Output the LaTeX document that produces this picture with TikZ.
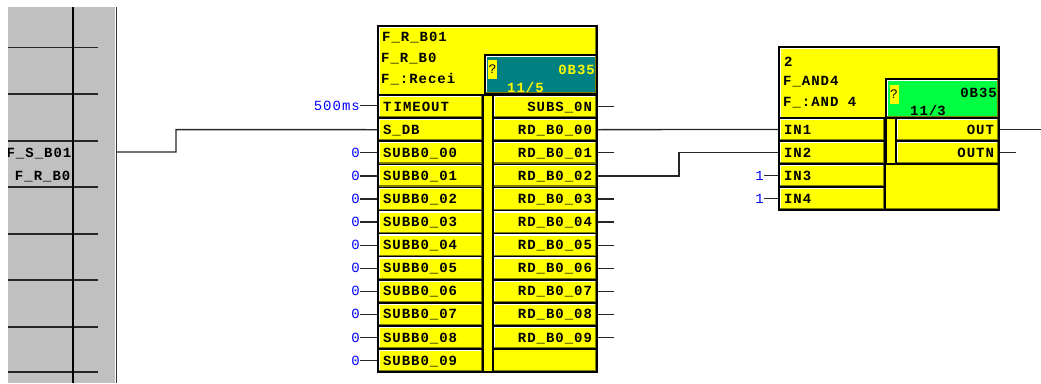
\documentclass[tikz,border=0pt]{standalone}
\usepackage{fontspec}
\usepackage{tikz}
\usepackage{xcolor}
\newfontfamily\fbdfont[LetterSpace=7]{Liberation Mono}
\definecolor{panelgray}{RGB}{192,192,192}
\definecolor{bevelolive}{RGB}{128,128,0}
\definecolor{runteal}{RGB}{0,128,128}
\definecolor{rungreen}{RGB}{0,255,64}
\definecolor{fbdyellow}{RGB}{255,255,0}
\definecolor{constblue}{RGB}{0,0,255}
\tikzset{
  fbdtext/.style={font=\fbdfont\bfseries\fontsize{14}{14}\selectfont,inner sep=0pt,text height=9.5pt,text depth=0.5pt},
  bevel/.style={path picture={
      \draw[white,line width=4pt] (path picture bounding box.south west) -- (path picture bounding box.north west) -- (path picture bounding box.north east);
      \draw[bevelolive,line width=4pt] (path picture bounding box.south west) -- (path picture bounding box.south east) -- (path picture bounding box.north east);}},
  pinbox/.style={fbdtext,draw=black,line width=1.5pt,fill=fbdyellow,minimum height=23.1pt,inner xsep=5pt,bevel},
  leftpin/.style={pinbox,text width=95pt,align=left},
  rightpin/.style={pinbox,text width=94pt,align=right},
  blockbox/.style={draw=black,line width=1.5pt,fill=fbdyellow,inner sep=0pt,bevel},
  runbox/.style={draw=black,line width=1.5pt,inner sep=0pt,bevel},
  wire/.style={draw=black!85,line width=1.3pt},
  constval/.style={fbdtext,text=constblue,font=\fbdfont\fontsize{14}{14}\selectfont},
}
\begin{document}
\begin{tikzpicture}[x=1pt,y=-1pt]
\useasboundingbox (0,0) rectangle (1041,383);
% left panel
\fill[panelgray] (8,7) rectangle (115,383);
\foreach \y in {47.5,94,141,187,234,280,327,372}
  \draw[black!85,line width=1.2pt] (8,\y) -- (98,\y);
\draw[black,line width=1.2pt] (73,7) -- (73,383);
\draw[white,line width=1pt] (115,7) -- (115,383);
\draw[black!80,line width=1.2pt] (116.5,7) -- (116.5,383);
\begin{scope}
\clip (8,7) rectangle (115,383);
\node[fbdtext,anchor=east] (panelsend) at (71.5,153) {F\_S\_B01};
\node[fbdtext,anchor=east] (panelrecv) at (70.5,176) {F\_R\_B0};
\end{scope}
\coordinate (panelout) at (117,152);
% first block
\node[blockbox,minimum width=219pt,minimum height=346pt] (recvblock) at (487.5,199) {};
\node[fbdtext,anchor=west] (recvname) at (382,37) {F\_R\_B01};
\node[fbdtext,anchor=west] (recvtype) at (381,58) {F\_R\_B0};
\node[fbdtext,anchor=west] (recvcomm) at (381,79) {F\_:Recei};
\node[runbox,fill=runteal,minimum width=112pt,minimum height=39pt] (recvrun) at (541,74.5) {};
\node[fill=fbdyellow,minimum width=9pt,minimum height=19pt,inner sep=0pt,font=\fbdfont\fontsize{13}{13}\selectfont] (recvflag) at (492.5,69.5) {?};
\node[fbdtext,text=fbdyellow,anchor=east] (recvob) at (595,70) {0B35};
\node[fbdtext,text=fbdyellow,anchor=west] (recvslot) at (507,88) {11/5};
\node[draw=black,line width=1.5pt,fill=fbdyellow,minimum width=10pt,minimum height=277pt,inner sep=0pt] (recvbar) at (488,233.5) {};
\foreach \i/\t in {0/T\,IMEOUT,1/S\_DB,2/SUBB0\_00,3/SUBB0\_01,4/SUBB0\_02,5/SUBB0\_03,6/SUBB0\_04,7/SUBB0\_05,8/SUBB0\_06,9/SUBB0\_07,10/SUBB0\_08,11/SUBB0\_09} {
  \node[leftpin] (rin\i) at (430.5,{95+23.1*(\i+0.5)}) {\t};
}
\foreach \i/\t in {0/SUBS\_0N,1/RD\_B0\_00,2/RD\_B0\_01,3/RD\_B0\_02,4/RD\_B0\_03,5/RD\_B0\_04,6/RD\_B0\_05,7/RD\_B0\_06,8/RD\_B0\_07,9/RD\_B0\_08,10/RD\_B0\_09} {
  \node[rightpin] (rout\i) at (545,{95+23.1*(\i+0.5)}) {\t};
}
\node[constval,anchor=east] (rval0) at (360,105.5) {500ms};
\draw[wire] (rval0) -- (rval0 -| rin0.west);
\foreach \i in {2,...,11} {
  \node[constval,anchor=east] (rval\i) at (360,{95+23.1*(\i+0.5)}) {0};
  \draw[wire] (rval\i) -- (rin\i);
}
\foreach \i in {0,2,4,5,6,7,8,9,10} {
  \coordinate (rstub\i) at (614,{95+23.1*(\i+0.5)});
  \draw[wire] (rout\i) -- (rstub\i);
}
% second block
\node[blockbox,minimum width=220pt,minimum height=163pt] (andblock) at (889,128.5) {};
\node[fbdtext,anchor=west] (andname) at (784,62) {2};
\node[fbdtext,anchor=west] (andtype) at (783,81) {F\_AND4};
\node[fbdtext,anchor=west] (andcomm) at (783,102) {F\_:AND 4};
\node[runbox,fill=rungreen,minimum width=113pt,minimum height=39pt] (andrun) at (942.5,98.5) {};
\node[fill=fbdyellow,minimum width=9pt,minimum height=19pt,inner sep=0pt,font=\fbdfont\fontsize{13}{13}\selectfont] (andflag) at (894,94) {?};
\node[fbdtext,anchor=east] (andob) at (997,93) {0B35};
\node[fbdtext,anchor=west] (andslot) at (910,111) {\underline{11/}3};
\node[draw=black,line width=1.5pt,fill=fbdyellow,minimum width=10pt,minimum height=46pt,inner sep=0pt] (andbar) at (891,141) {};
\foreach \i/\t in {0/IN1,1/IN2,2/IN3,3/IN4} {
  \node[pinbox,text width=96pt,align=left] (ain\i) at (832,{118+23*(\i+0.5)}) {\t};
}
\foreach \i/\t in {0/OUT,1/OUTN} {
  \node[pinbox,text width=93pt,align=right] (aout\i) at (947.5,{118+23*(\i+0.5)}) {\t};
}
\foreach \i in {2,3} {
  \node[constval,anchor=east] (aval\i) at (764,{118+23*(\i+0.5)}) {1};
  \draw[wire] (aval\i) -- (ain\i);
}
% wires between blocks
\coordinate (kinkone) at (176,129.6);
\coordinate (kinktwo) at (679,152.5);
\coordinate (outend) at (1041,129.5);
\coordinate (outnend) at (1016,152.5);
\draw[wire] (panelout) -| (kinkone) -- (rin1.west);
\draw[wire] (rout1.east) -- (ain0.west);
\draw[wire] (rout3.east) -| (kinktwo) -- (ain1.west);
\draw[wire] (aout0.east) -- (outend);
\draw[wire] (aout1.east) -- (outnend);
\end{tikzpicture}
\end{document}
